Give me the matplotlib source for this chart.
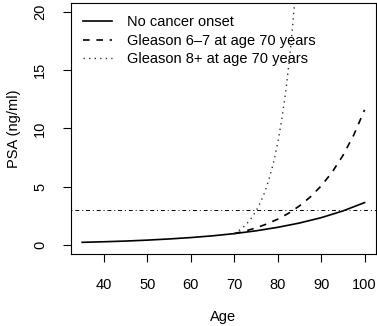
import numpy as np
import matplotlib.pyplot as plt

plt.rcParams['font.family'] = ['Liberation Sans', 'DejaVu Sans']

# PSA trajectories by age
age_base = [35, 40, 45, 50, 55, 60, 65, 70, 75, 80, 85, 90, 95, 100]
psa_base = [0.20, 0.25, 0.31, 0.39, 0.49, 0.61, 0.76, 0.95, 1.19, 1.49, 1.86, 2.32, 2.90, 3.62]

age_g67 = [70, 72.5, 75, 77.5, 80, 82.5, 85, 87.5, 90, 92.5, 95, 97.5, 100]
psa_g67 = [0.95, 1.17, 1.44, 1.78, 2.19, 2.70, 3.33, 4.10, 5.05, 6.22, 7.66, 9.43, 11.6]

age_g8 = [70, 71, 72, 73, 74, 75, 76, 77, 78, 79, 80, 81, 82, 83, 84, 85]
psa_g8 = [0.95, 1.19, 1.48, 1.85, 2.31, 2.88, 3.60, 4.49, 5.61, 7.00, 8.74, 10.9, 13.6, 17.0, 21.2, 26.5]

threshold = 3
xticks = [40, 50, 60, 70, 80, 90, 100]
yticks = [0, 5, 10, 15, 20]

fs = 10.5
fig = plt.figure(figsize=(3.77, 3.26), dpi=100)
ax = fig.add_axes([0.188, 0.221, 0.809, 0.770])

ax.plot(age_base, psa_base, color='black', lw=1.2, label='No cancer onset')
ax.plot(age_g67, psa_g67, color='black', lw=1.2, dashes=(4, 4), label='Gleason 6\u20137 at age 70 years')
ax.plot(age_g8, psa_g8, color='#333333', lw=1.0, dashes=(1, 3), label='Gleason 8+ at age 70 years')
ax.axhline(threshold, color='black', lw=0.7, dashes=(1, 3, 4, 3))

ax.set_xlim(35 - 0.04 * 65, 100 + 0.04 * 65)
ax.set_ylim(-0.8, 20.8)
ax.set_xticks(xticks)
ax.set_yticks(yticks)
ax.tick_params(direction='out', length=6, width=0.8, labelsize=fs)
ax.tick_params(axis='x', pad=11)
ax.tick_params(axis='y', pad=11)
for lbl in ax.get_yticklabels():
    lbl.set_rotation(90)
    lbl.set_va('center')
for sp in ax.spines.values():
    sp.set_linewidth(0.8)

ax.set_xlabel('Age', fontsize=fs, labelpad=13)
ax.set_ylabel('PSA (ng/ml)', fontsize=fs, labelpad=9)

ax.legend(loc='upper left', frameon=False, fontsize=fs, handlelength=2.0,
          handletextpad=1.0, labelspacing=0.3, borderaxespad=0.3,
          borderpad=0.55)

fig.savefig('out.png', dpi=100)
